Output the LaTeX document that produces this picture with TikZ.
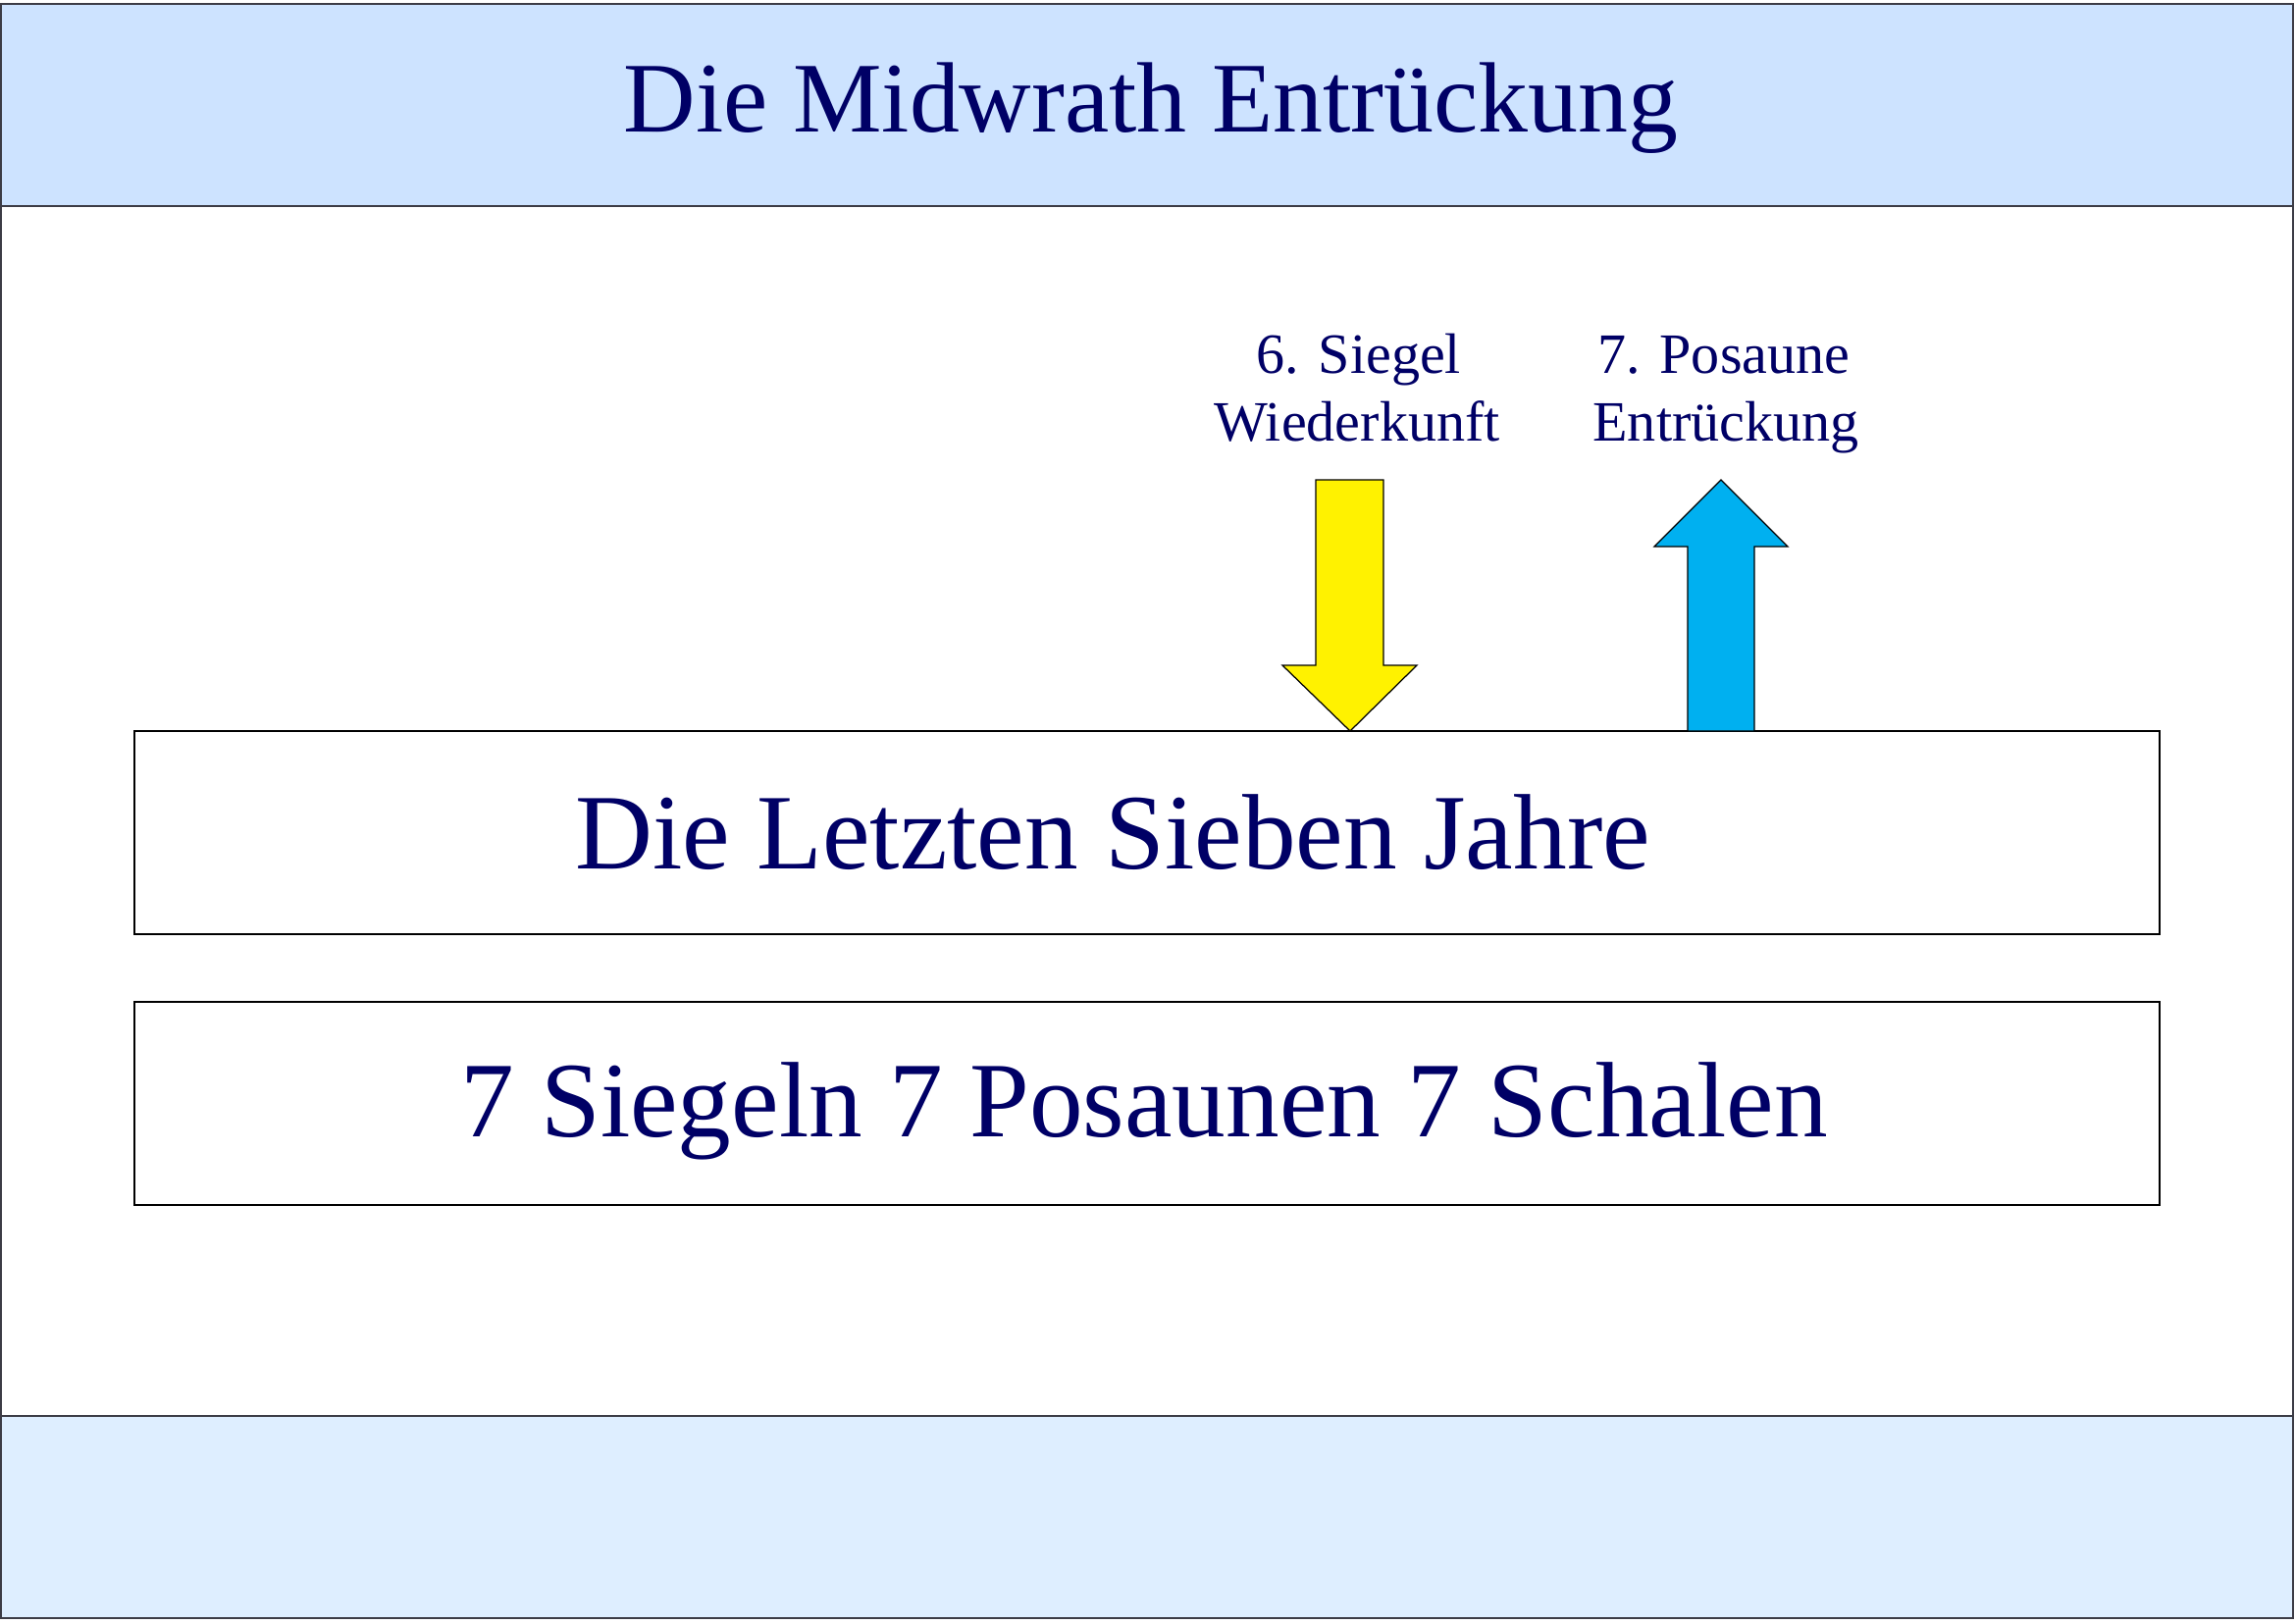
\documentclass[tikz,border=0pt]{standalone}
\usepackage{fontspec}
\setmainfont{Liberation Serif}
\definecolor{hdr}{RGB}{205,227,255}
\definecolor{ftr}{RGB}{222,238,255}
\definecolor{navy}{RGB}{0,0,102}
\definecolor{arrblue}{RGB}{0,176,240}
\definecolor{framegray}{RGB}{60,60,70}
\begin{document}
\begin{tikzpicture}[x=0.127mm,y=-0.127mm,
  frameline/.style={draw=framegray,line width=0.5pt},
  bandbox/.style={draw=black,line width=0.7pt,fill=white,inner sep=0pt,
    minimum width=262.13mm,minimum height=26.29mm},
  bigtext/.style={text=navy,inner sep=0pt,anchor=base,font=\fontsize{39.5}{44}\selectfont},
  titletext/.style={text=navy,inner sep=0pt,anchor=base,font=\fontsize{36.8}{40}\selectfont},
  labeltext/.style={text=navy,inner sep=0pt,anchor=base,font=\fontsize{21}{25}\selectfont},
  arrowshape/.style={draw=black,line width=0.45pt,line join=miter}]
\useasboundingbox (0,0) rectangle (2339,1654);
\fill[white] (0,0) rectangle (2339,1654);
% header and footer bands
\fill[hdr] (1,4) rectangle (2337,210);
\fill[ftr] (1,1443) rectangle (2337,1649);
\draw[frameline] (1,4) rectangle (2337,1649);
\draw[frameline] (1,210) -- (2337,210);
\draw[frameline] (1,1443) -- (2337,1443);
% title
\node[titletext] (title) at (1173,134) {Die Midwrath Entrückung};
% boxes
\node[bandbox] (box1) at (1169,848.5) {};
\node[bandbox] (box2) at (1169,1124.5) {};
\node[bigtext] (t1) at (1134,885) {Die Letzten Sieben Jahre};
\node[bigtext] (t2) at (1166,1158) {7 Siegeln 7 Posaunen 7 Schalen};
% labels
\node[labeltext] (l6a) at (1385,380) {6. Siegel};
\node[labeltext] (l6b) at (1383,449) {Wiederkunft};
\node[labeltext] (l7a) at (1757,380) {7. Posaune};
\node[labeltext] (l7b) at (1759,449) {Entrückung};
% arrows
\draw[arrowshape,fill=yellow] (1341,489) -- (1410,489) -- (1410,678) -- (1444,678)
  -- (1376,745) -- (1307,678) -- (1341,678) -- cycle;
\draw[arrowshape,fill=arrblue] (1720,745) -- (1720,557) -- (1686,557) -- (1754,489)
  -- (1822,557) -- (1788,557) -- (1788,745) -- cycle;
\end{tikzpicture}
\end{document}
